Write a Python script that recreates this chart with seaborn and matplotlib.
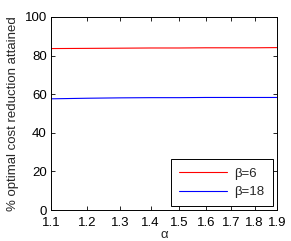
import pandas as pd
import seaborn as sns
from matplotlib import pyplot as plt
from matplotlib.ticker import FixedLocator, NullLocator

alpha = [1.1, 1.2, 1.3, 1.4, 1.5, 1.6, 1.7, 1.8, 1.9]
beta6 = [83.6, 83.7, 83.8, 83.9, 83.9, 84.0, 84.0, 84.0, 84.1]
beta18 = [57.6, 57.9, 58.1, 58.2, 58.2, 58.3, 58.3, 58.3, 58.3]
series_names = ["\u03b2=6", "\u03b2=18"]
series_colors = ["#ff0000", "#0000ff"]
x_ticks = [1.1, 1.2, 1.3, 1.4, 1.5, 1.6, 1.7, 1.8, 1.9]
y_ticks = [0, 20, 40, 60, 80, 100]

df = pd.DataFrame({
    "alpha": alpha * 2,
    "value": beta6 + beta18,
    "beta": [series_names[0]] * len(alpha) + [series_names[1]] * len(alpha),
})

sns.set_style("ticks")
plt.rcParams['font.family'] = ['Liberation Sans', 'DejaVu Sans']
plt.rcParams['xtick.direction'] = 'in'
plt.rcParams['ytick.direction'] = 'in'

fig = plt.figure(figsize=(2.91, 2.41), dpi=100)
ax = fig.add_axes([0.175, 0.128, 0.777, 0.802])

for name, col in zip(series_names, series_colors):
    sns.lineplot(data=df[df["beta"] == name], x="alpha", y="value",
                 color=col, linewidth=0.8, ax=ax, label=name)

ax.set_xscale("log")
ax.set_xlim(1.1, 1.9)
ax.set_ylim(0, 100)
ax.xaxis.set_major_locator(FixedLocator(x_ticks))
ax.xaxis.set_minor_locator(NullLocator())
ax.set_xticklabels([str(t) for t in x_ticks])
ax.set_yticks(y_ticks)
ax.tick_params(axis="both", labelsize=9.5, length=3, width=0.6,
               top=True, right=True, colors="black")
ax.tick_params(axis="x", pad=5)
ax.tick_params(axis="y", pad=3)
for s in ax.spines.values():
    s.set_visible(True)
    s.set_linewidth(0.7)
    s.set_color("black")

ax.set_xlabel("\u03b1", fontsize=9.5, labelpad=0)
ax.set_ylabel("% optimal cost reduction attained", fontsize=9.5, labelpad=4)

leg = ax.legend(loc="lower right", bbox_to_anchor=(0.98, 0.02),
                fontsize=9.5, frameon=True, fancybox=False,
                edgecolor="black", borderaxespad=0, handlelength=3.6,
                borderpad=0.6, labelspacing=0.5, handletextpad=0.6)
leg.get_frame().set_linewidth(0.7)
leg.get_frame().set_alpha(1)

fig.savefig("out.png", dpi=100, facecolor="white")
